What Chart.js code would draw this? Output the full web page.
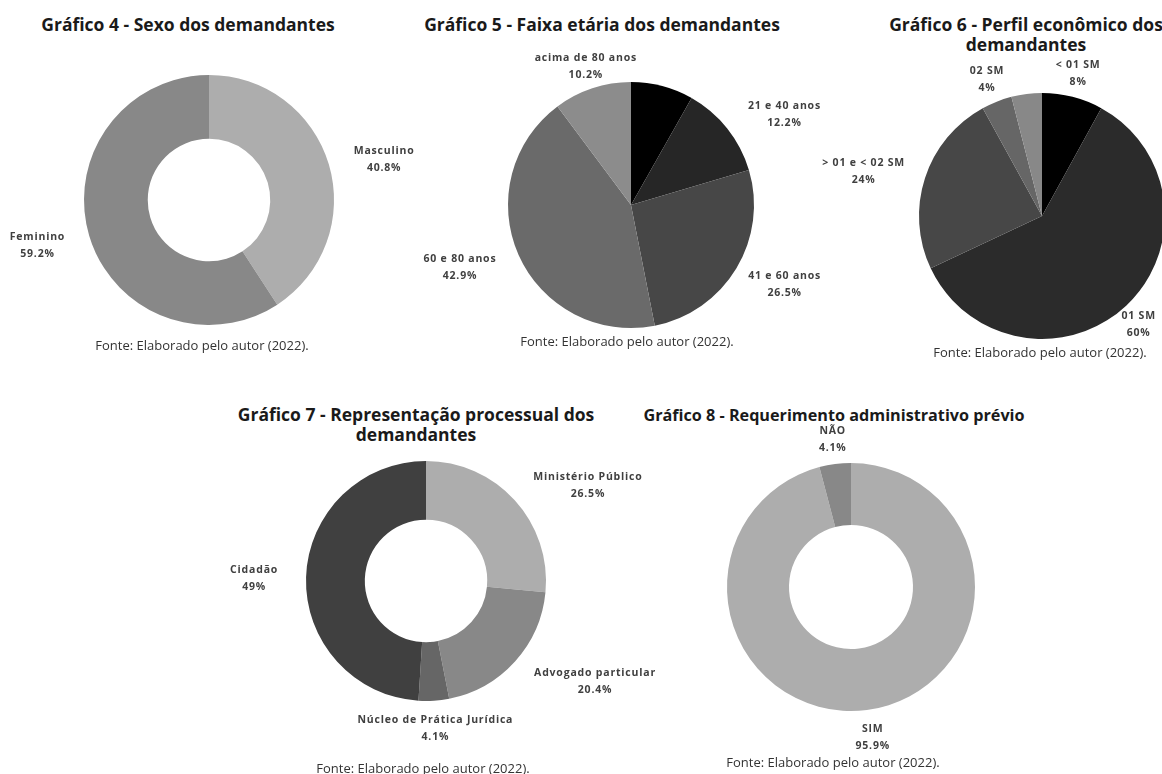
<!DOCTYPE html>
<html lang="pt-BR">
<head>
<meta charset="utf-8">
<title>Perfil dos demandantes</title>
<script src="https://cdn.jsdelivr.net/npm/chart.js@4.4.0/dist/chart.umd.min.js"></script>
<style>
  html, body { margin: 0; padding: 0; background: #fff; }
  body { width: 1162px; height: 774px; position: relative; overflow: hidden; font-family: 'Open Sans', sans-serif; }
  .titulo { position: absolute; font-weight: 700; font-size: 17.5px; line-height: 20px; color: #1a1a1a; text-align: center; white-space: nowrap; transform: translate(-50%, -50%); }
  .fonte { position: absolute; font-size: 13px; color: #333; white-space: nowrap; transform: translate(-50%, -50%); }
  canvas { position: absolute; }
</style>
</head>
<body>
<div class="titulo" style="left:188px; top:24px">Gráfico 4 - Sexo dos demandantes</div>
<div class="titulo" style="left:602px; top:24px">Gráfico 5 - Faixa etária dos demandantes</div>
<div class="titulo" style="left:1026px; top:34px">Gráfico 6 - Perfil econômico dos<br>demandantes</div>
<div class="titulo" style="left:416px; top:424px">Gráfico 7 - Representação processual dos<br>demandantes</div>
<div class="titulo" style="left:834px; top:415px; font-size:16.2px">Gráfico 8 - Requerimento administrativo prévio</div>

<canvas id="grafico4"></canvas>
<canvas id="grafico5"></canvas>
<canvas id="grafico6"></canvas>
<canvas id="grafico7"></canvas>
<canvas id="grafico8"></canvas>

<div class="fonte" style="left:202px; top:345px">Fonte: Elaborado pelo autor (2022).</div>
<div class="fonte" style="left:627px; top:341px">Fonte: Elaborado pelo autor (2022).</div>
<div class="fonte" style="left:1040px; top:352px">Fonte: Elaborado pelo autor (2022).</div>
<div class="fonte" style="left:423px; top:768px">Fonte: Elaborado pelo autor (2022).</div>
<div class="fonte" style="left:833px; top:762px">Fonte: Elaborado pelo autor (2022).</div>

<script>
// Gráfico 4 - sexo
const sexoLabels = ['Masculino', 'Feminino'];
const sexoValues = [40.8, 59.2];
const sexoColors = ['#adadad', '#888888'];

// Gráfico 5 - faixa etária (a primeira fatia não tem rótulo)
const faixaLabels = ['', '21 e 40 anos', '41 e 60 anos', '60 e 80 anos', 'acima de 80 anos'];
const faixaValues = [8.2, 12.2, 26.5, 42.9, 10.2];
const faixaColors = ['#000000', '#262626', '#474747', '#6a6a6a', '#8c8c8c'];

// Gráfico 6 - renda (última fatia sem rótulo)
const rendaLabels = ['< 01 SM', '01 SM', '> 01 e < 02 SM', '02 SM', ''];
const rendaValues = [8, 60, 24, 4, 4];
const rendaColors = ['#000000', '#2b2b2b', '#474747', '#666666', '#888888'];

// Gráfico 7 - representação processual
const representacaoLabels = ['Ministério Público', 'Advogado particular', 'Núcleo de Prática Jurídica', 'Cidadão'];
const representacaoValues = [26.5, 20.4, 4.1, 49];
const representacaoColors = ['#adadad', '#888888', '#666666', '#404040'];

// Gráfico 8 - requerimento administrativo
const requerimentoLabels = ['SIM', 'NÃO'];
const requerimentoValues = [95.9, 4.1];
const requerimentoColors = ['#adadad', '#888888'];

// Rótulos "categoria / valor%" fora de cada fatia, no ângulo médio do arco
const rotulosExternos = {
    id: 'rotulosExternos',
    afterDatasetsDraw(chart, args, opts) {
        const ctx = chart.ctx;
        const meta = chart.getDatasetMeta(0);
        const values = chart.data.datasets[0].data;
        ctx.save();
        ctx.font = 'bold 10.5px "Open Sans"';
        ctx.letterSpacing = '0.8px';
        ctx.fillStyle = '#404040';
        ctx.textAlign = 'center';
        ctx.textBaseline = 'middle';
        meta.data.forEach((arc, i) => {
            const label = chart.data.labels[i];
            if (!label) return;
            const p = arc.getProps(['x', 'y', 'startAngle', 'endAngle', 'outerRadius'], true);
            const mid = (p.startAngle + p.endAngle) / 2;
            const ux = Math.cos(mid);
            const uy = Math.sin(mid);
            const pct = values[i] + '%';
            const w = Math.max(ctx.measureText(label).width, ctx.measureText(pct).width);
            const h = 30;
            const d = p.outerRadius + opts.gap;
            // ajuste fino de cada rótulo
            const nudge = (opts.nudge && opts.nudge[i]) || [0, 0];
            const cx = p.x + ux * d + ux * w / 2 + nudge[0];
            const cy = p.y + uy * d + uy * h / 2 + nudge[1];
            ctx.fillText(label, cx, cy - 8.5);
            ctx.fillText(pct, cx, cy + 8.5);
        });
        ctx.restore();
    }
};

function renderPie(id, cx, cy, r, labels, values, colors, cutout, gap, nudge) {
    const padX = 200;
    const padY = 80;
    const canvas = document.getElementById(id);
    canvas.width = 2 * r + 2 * padX;
    canvas.height = 2 * r + 2 * padY;
    canvas.style.left = (cx - r - padX) + 'px';
    canvas.style.top = (cy - r - padY) + 'px';

    new Chart(canvas, {
        type: cutout ? 'doughnut' : 'pie',
        data: {
            labels: labels,
            datasets: [{
                data: values,
                backgroundColor: colors,
                borderWidth: 0
            }]
        },
        options: {
            responsive: false,
            animation: false,
            cutout: cutout || 0,
            layout: {
                padding: { left: padX, right: padX, top: padY, bottom: padY }
            },
            plugins: {
                legend: { display: false },
                tooltip: { enabled: false },
                rotulosExternos: { gap: gap, nudge: nudge }
            }
        },
        plugins: [rotulosExternos]
    });
}

document.addEventListener('DOMContentLoaded', () => {
    renderPie('grafico4', 209, 200, 125, sexoLabels, sexoValues, sexoColors, '49%', 20,
        [[7, 5], [-6, 0]]);
    renderPie('grafico5', 631, 205, 123, faixaLabels, faixaValues, faixaColors, null, 20,
        [null, [13, 8], [0, -2], [-7, -2], [16, 11]]);
    renderPie('grafico6', 1042, 216, 123, rendaLabels, rendaValues, rendaColors, null, 20,
        [[-5, 11], [-13, -7], [-3, 4], [4, 10], null]);
    renderPie('grafico7', 426, 581, 120, representacaoLabels, representacaoValues, representacaoColors, '51%', 20,
        [[18, 9], [20, -3], [-5, -7], [-8, 2]]);
    renderPie('grafico8', 851, 587, 124, requerimentoLabels, requerimentoValues, requerimentoColors, '50%', 20,
        [[1, -7], [2, 10]]);
});
</script>
</body>
</html>
